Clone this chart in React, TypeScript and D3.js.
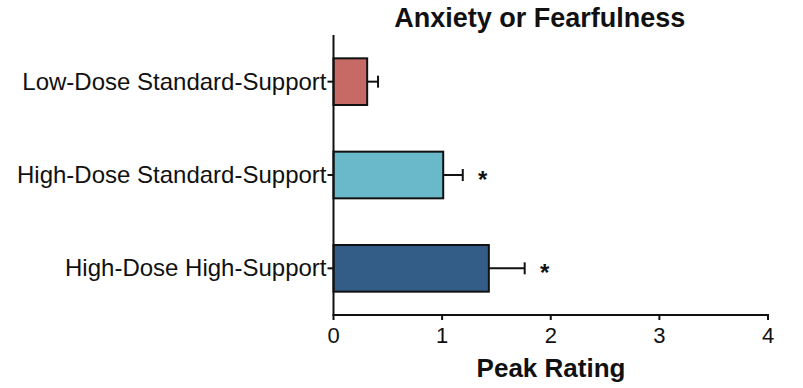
import React from "react";
import * as d3 from "d3";

const categories = [
  "Low-Dose Standard-Support",
  "High-Dose Standard-Support",
  "High-Dose High-Support",
];
const means = [0.31, 1.01, 1.43];
const errors = [0.1, 0.18, 0.33];
const significant = [false, true, true];
const colors = ["#c76a65", "#69b9cb", "#335d87"];
const xTicks = [0, 1, 2, 3, 4];

const W = 803;
const H = 388;
const FONT = "'Liberation Sans', Arial, Helvetica, sans-serif";

export default function App() {
  const x = d3.scaleLinear().domain([0, 4]).range([333.5, 768]);
  const y = d3
    .scaleBand<string>()
    .domain(categories)
    .range([35, 315])
    .paddingInner(0.5)
    .paddingOuter(0.25);
  const x0 = x(0);
  const yBottom = 315;
  const xMid = (x(0) + x(4)) / 2;

  return (
    <svg
      width={W}
      height={H}
      style={{ position: "absolute", left: 0, top: 0, background: "#fff" }}
      fontFamily={FONT}
    >
      <text
        x={xMid - 11}
        y={27}
        textAnchor="middle"
        fontSize={27}
        fontWeight="bold"
        fill="#111"
      >
        Anxiety or Fearfulness
      </text>

      {categories.map((c, i) => {
        const top = y(c)!;
        const bh = y.bandwidth();
        const cy = top + bh / 2;
        const xe = x(means[i] + errors[i]);
        return (
          <g key={c}>
            <line x1={x(means[i])} x2={xe} y1={cy} y2={cy} stroke="#111" strokeWidth={2} />
            <line x1={xe} x2={xe} y1={cy - 6} y2={cy + 6} stroke="#111" strokeWidth={2} />
            <rect
              x={x0}
              y={top}
              width={x(means[i]) - x0}
              height={bh}
              fill={colors[i]}
              stroke="#111"
              strokeWidth={2}
            />
            {significant[i] && (
              <text x={xe + 20} y={cy + 13} textAnchor="middle" fontSize={24} fontWeight="bold" fill="#111">
                *
              </text>
            )}
            <line x1={x0 - 6} x2={x0} y1={cy} y2={cy} stroke="#111" strokeWidth={2} />
            <text x={x0 - 7} y={cy + 8} textAnchor="end" fontSize={24} fill="#111">
              {c}
            </text>
          </g>
        );
      })}

      <line x1={x0} x2={x0} y1={35} y2={yBottom} stroke="#111" strokeWidth={2} />
      <line x1={x0 - 1} x2={x(4) + 1} y1={yBottom} y2={yBottom} stroke="#111" strokeWidth={2} />
      {xTicks.map((t) => (
        <g key={t}>
          <line x1={x(t)} x2={x(t)} y1={yBottom} y2={yBottom + 5} stroke="#111" strokeWidth={2} />
          <text x={x(t)} y={yBottom + 28} textAnchor="middle" fontSize={22} fill="#111">
            {t}
          </text>
        </g>
      ))}
      <text x={551} y={377} textAnchor="middle" fontSize={26} fontWeight="bold" fill="#111">
        Peak Rating
      </text>
    </svg>
  );
}
